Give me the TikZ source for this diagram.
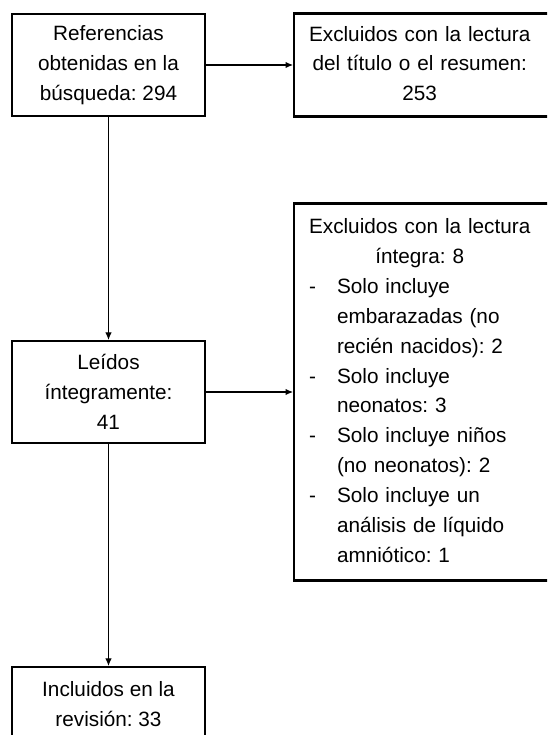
\documentclass[tikz,border=0pt]{standalone}
\usepackage{fontspec}
\setmainfont{Liberation Sans}
\usepackage{tikz}
\usetikzlibrary{arrows.meta, positioning}
\frenchspacing

\begin{document}
\begin{tikzpicture}[box/.style={draw, line width=1.2pt, align=center, inner sep=0pt, minimum width=3.86cm, minimum height=2.04cm, font=\fontsize{11.8}{17}\selectfont},
    sidebox/.style={draw, line width=1.2pt, align=left, text width=5cm, inner xsep=0.3cm, inner ysep=0pt, anchor=west, font=\fontsize{11.8}{17}\selectfont},
    link/.style={line width=0.6pt, -{Latex[length=1.5mm, width=1.3mm]}}]
    \useasboundingbox (0,0) rectangle (10.94,-14.7);
    \clip (0,0) rectangle (10.94,-14.7);

    \node[box] (refs) at (2.17,-1.30) {Referencias\\obtenidas en la\\búsqueda: 294};
    \node[sidebox, minimum height=2.06cm] (excl1) at (5.86,-1.30) {\begin{tabular}{@{}c@{}}
        Excluidos con la lectura\\
        del título o el resumen:\\
        253
    \end{tabular}};
    \node[box] (leidos) at (2.17,-7.84) {Leídos\\íntegramente:\\41};
    \node[sidebox, minimum height=7.54cm] (excl2) at (5.86,-7.84) {\begin{tabular}{@{}p{0.56cm}@{}l@{}}
        \multicolumn{2}{@{}c@{}}{Excluidos con la lectura}\\
        \multicolumn{2}{@{}c@{}}{íntegra: 8}\\
        - & Solo incluye\\
          & embarazadas (no\\
          & recién nacidos): 2\\
        - & Solo incluye\\
          & neonatos: 3\\
        - & Solo incluye niños\\
          & (no neonatos): 2\\
        - & Solo incluye un\\
          & análisis de líquido\\
          & amniótico: 1
    \end{tabular}};
    \node[box, minimum height=1.48cm] (incl) at (2.17,-14.08) {Incluidos en la\\revisión: 33};

    \draw[link] (refs.east) -- (excl1.west);
    \draw[link] (refs) -- (leidos);
    \draw[link] (leidos.east) -- (excl2.west);
    \draw[link] (leidos) -- (incl);
\end{tikzpicture}
\end{document}
